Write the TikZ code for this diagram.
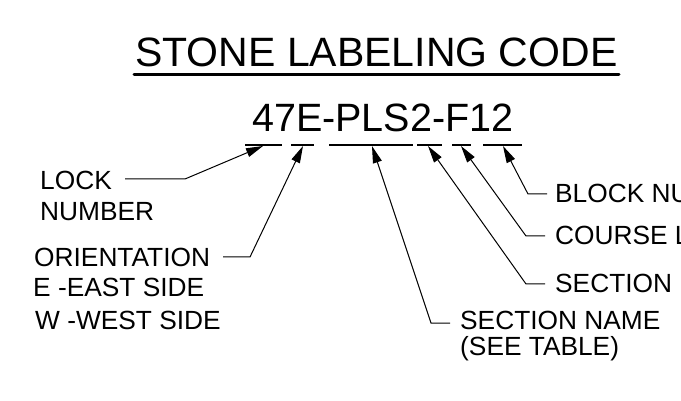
\documentclass[tikz,border=0pt]{standalone}
\usepackage{fontspec}
\setmainfont{Liberation Sans}
\usetikzlibrary{arrows.meta}
\tikzset{
  lbl/.style={anchor=base west, inner sep=0pt, font=\fontsize{26.3}{26.3}\selectfont},
  lead/.style={line width=1pt, -{Stealth[length=17pt, width=9pt, inset=0pt]}},
  dashseg/.style={line width=1.3pt}
}
\begin{document}
\begin{tikzpicture}[x=1pt,y=-1pt]
\useasboundingbox (0,0) rectangle (681,401);
\clip (0,0) rectangle (681,401);
% title
\node[anchor=base west, inner sep=0pt, font=\fontsize{41}{41}\selectfont] (title) at (135,67) {STONE LABELING CODE};
\draw[line width=3pt, line cap=round] (134,75) -- (619,75);
% code
\node[anchor=base west, inner sep=0pt, font=\fontsize{39.5}{39.5}\selectfont] (code) at (252,132) {47E-PLS2-F12};
% underline segments
\draw[dashseg] (245,145) -- (282,145);
\draw[dashseg] (291,145) -- (314,145);
\draw[dashseg] (329,145) -- (413,145);
\draw[dashseg] (417,145) -- (442,145);
\draw[dashseg] (452,145) -- (471,145);
\draw[dashseg] (483,145) -- (522,145);
% tips
\coordinate (t1) at (263,146);
\coordinate (t2) at (303,146);
\coordinate (t3) at (372,146);
\coordinate (t4) at (428,146);
\coordinate (t5) at (461,146);
\coordinate (t6) at (503,146);
% left labels
\node[lbl] (lock) at (40,190) {LOCK};
\node[lbl] (number) at (40,221) {NUMBER};
\node[lbl] (orient) at (34,266) {ORIENTATION};
\node[lbl] (east) at (33,296) {E -EAST SIDE};
\node[lbl] (west) at (35,329) {W -WEST SIDE};
% right labels
\node[lbl] (block) at (555,203) {BLOCK NUMBER};
\node[lbl] (course) at (555,244) {COURSE LETTER};
\node[lbl] (section) at (555,293) {SECTION};
\node[lbl] (secname) at (460,330) {SECTION NAME};
\node[lbl] (seetable) at (460,355) {(SEE TABLE)};
% elbows
\coordinate (s1) at (125,179); \coordinate (e1) at (185,179);
\coordinate (s2) at (223,257); \coordinate (e2) at (250,257);
\coordinate (s6) at (547,194); \coordinate (e6) at (528,194);
\coordinate (s5) at (545,236); \coordinate (e5) at (526,236);
\coordinate (s4) at (545,284); \coordinate (e4) at (526,284);
\coordinate (s3) at (450,323); \coordinate (e3) at (431,323);
% leaders
\draw[lead] (s1) -- (e1) -- (t1);
\draw[lead] (s2) -- (e2) -- (t2);
\draw[lead] (s3) -- (e3) -- (t3);
\draw[lead] (s4) -- (e4) -- (t4);
\draw[lead] (s5) -- (e5) -- (t5);
\draw[lead] (s6) -- (e6) -- (t6);
\end{tikzpicture}
\end{document}
